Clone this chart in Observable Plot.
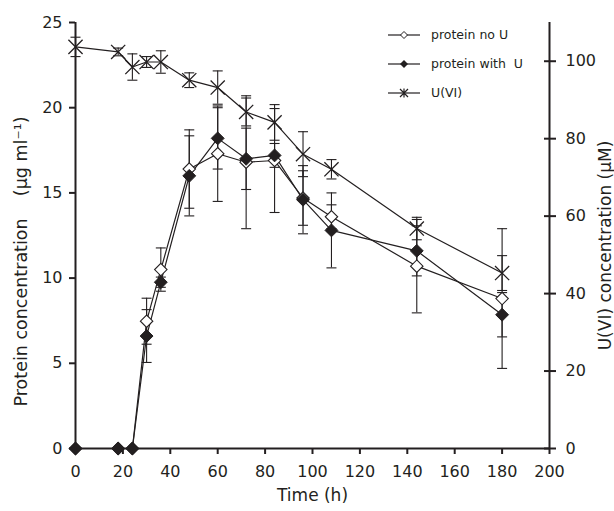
<!DOCTYPE html>
<html>
<head>
<meta charset="utf-8">
<script src="https://cdn.jsdelivr.net/npm/d3@7"></script>
<script src="https://cdn.jsdelivr.net/npm/@observablehq/plot@0.6"></script>
<style>
  html, body { margin: 0; padding: 0; background: #fff; }
  #wrap { position: relative; width: 614px; height: 511px; }
  #wrap svg text { white-space: pre; }
  #legend { position: absolute; left: 386px; top: 20px; font-family: "DejaVu Sans", sans-serif; font-size: 12.5px; color: #231f20; }
  #legend .row { display: flex; align-items: center; height: 29px; white-space: pre; }
  #legend svg { margin-right: 9px; }
</style>
</head>
<body>
<div id="wrap"></div>
<script>
// ---- data ----
const time = [0, 18, 24, 30, 36, 48, 60, 72, 84, 96, 108, 144, 180];
const proteinNoU = [0, 0, 0, 7.47, 10.5, 16.4, 17.3, 16.8, 16.9, 14.7, 13.6, 10.7, 8.8];
const proteinNoUErr = [0, 0, 0, 1.35, 1.27, 2.3, 2.8, 3.9, 3.05, 1.6, 0.7, 2.74, 4.1];
const proteinWithU = [0, 0, 0, 6.6, 9.76, 16.0, 18.2, 17.0, 17.2, 14.6, 12.8, 11.6, 7.85];
const proteinWithUErr = [0, 0, 0, 1.55, 0.3, 2.35, 1.8, 1.8, 0.7, 2.0, 2.2, 1.47, 1.3];
const uvi = [103.7, 102.4, 98.5, 99.8, 99.8, 95.1, 93.2, 86.9, 84.2, 76.0, 72.1, 56.8, 45.3];
const uviErr = [2.5, 1.0, 3.4, 1.4, 2.9, 1.9, 4.3, 3.6, 4.6, 5.8, 2.5, 2.9, 4.5];

const xTicks = [0, 20, 40, 60, 80, 100, 120, 140, 160, 180, 200];
const leftTicks = [0, 5, 10, 15, 20, 25];
const rightTicks = [0, 20, 40, 60, 80, 100];
const leftMax = 25, rightMax = 110;
const seriesNames = ["protein no U", "protein with  U", "U(VI)"];

// ---- build table ----
const k = leftMax / rightMax; // right-axis units -> left-axis units
const rows = [];
time.forEach((t, i) => {
  rows.push({series: "noU", t, v: proteinNoU[i], e: proteinNoUErr[i]});
  rows.push({series: "withU", t, v: proteinWithU[i], e: proteinWithUErr[i]});
  rows.push({series: "U", t, v: uvi[i] * k, e: uviErr[i] * k});
});
const errRows = rows.filter(d => d.e > 0);
const capRows = errRows.flatMap(d => [{t: d.t, y: d.v + d.e}, {t: d.t, y: d.v - d.e}]);
const bySeries = s => rows.filter(d => d.series === s);

const ink = "#231f20";
const hline = {draw(ctx, size) { const r = Math.sqrt(size / Math.PI); ctx.moveTo(-r, 0); ctx.lineTo(r, 0); }};

const chart = Plot.plot({
  width: 614,
  height: 511,
  marginLeft: 75,
  marginRight: 65,
  marginTop: 22,
  marginBottom: 63,
  style: {fontFamily: "DejaVu Sans, sans-serif", fontSize: "16px", color: ink, background: "#fff"},
  x: {domain: [0, 200]},
  y: {domain: [0, leftMax]},
  marks: [
    // error bars
    Plot.ruleX(errRows, {x: "t", y1: d => d.v - d.e, y2: d => d.v + d.e, stroke: ink, strokeWidth: 1.1}),
    Plot.dot(capRows, {x: "t", y: "y", symbol: hline, r: 5, fill: "none", stroke: ink, strokeWidth: 1.1}),
    // lines
    Plot.line(bySeries("U"), {x: "t", y: "v", stroke: ink, strokeWidth: 1.2}),
    Plot.line(bySeries("noU"), {x: "t", y: "v", stroke: ink, strokeWidth: 1.2}),
    Plot.line(bySeries("withU"), {x: "t", y: "v", stroke: ink, strokeWidth: 1.2}),
    // axis frame lines
    Plot.ruleY([0], {stroke: ink, strokeWidth: 2}),
    Plot.ruleX([0], {stroke: ink, strokeWidth: 2}),
    Plot.ruleX([200], {stroke: ink, strokeWidth: 2}),
    // markers
    Plot.dot(bySeries("U"), {x: "t", y: "v", symbol: "times", r: 6.5, stroke: ink, strokeWidth: 1.3, fill: "none"}),
    Plot.dot(bySeries("noU"), {x: "t", y: "v", symbol: "diamond2", r: 5.6, stroke: ink, strokeWidth: 1.1, fill: "white"}),
    Plot.dot(bySeries("withU"), {x: "t", y: "v", symbol: "diamond2", r: 5.8, stroke: ink, strokeWidth: 1, fill: ink}),
    // axes
    Plot.axisX({ticks: xTicks, tickSize: 6, tickPadding: 11, strokeWidth: 2, label: null, stroke: ink}),
    Plot.axisY({anchor: "left", ticks: leftTicks, tickSize: 6, tickPadding: 7, strokeWidth: 2, label: null, stroke: ink}),
    Plot.axisY({anchor: "right", ticks: rightTicks.map(v => v * k), tickFormat: d => String(Math.round(d / k)), tickSize: 6, tickPadding: 10, strokeWidth: 2, label: null, stroke: ink}),
    Plot.axisY({anchor: "right", ticks: rightTicks.map(v => v * k), text: null, tickSize: 6, dx: -6, strokeWidth: 2, label: null, stroke: ink}),
    // axis titles
    Plot.text(["Time (h)"], {frameAnchor: "bottom", dy: 52, textAnchor: "middle", fill: ink, fontSize: 17}),
    Plot.text(["Protein concentration    (\u03bcg ml\u207b\u00b9)"], {frameAnchor: "left", dx: -54, dy: 26, textAnchor: "middle", rotate: -90, fill: ink, fontSize: 17.5}),
    Plot.text(["U(VI) concentration (\u03bcM)"], {frameAnchor: "right", dx: 56, dy: 10, textAnchor: "middle", rotate: -90, fill: ink, fontSize: 17})
  ]
});

const wrap = document.getElementById("wrap");
wrap.appendChild(chart);

// legend (HTML overlay)
const legend = document.createElement("div");
legend.id = "legend";
const sw = [
  `<line x1="2" y1="7" x2="34" y2="7" stroke="${ink}" stroke-width="1.2"/><path d="M18,3.5L21.5,7L18,10.5L14.5,7Z" fill="white" stroke="${ink}" stroke-width="1"/>`,
  `<line x1="2" y1="7" x2="34" y2="7" stroke="${ink}" stroke-width="1.2"/><path d="M18,3L22,7L18,11L14,7Z" fill="${ink}"/>`,
  `<line x1="2" y1="7" x2="34" y2="7" stroke="${ink}" stroke-width="1.2"/><path d="M14,3L22,11M22,3L14,11M18,2.5L18,11.5" stroke="${ink}" stroke-width="1.2"/>`
];
seriesNames.forEach((name, i) => {
  const row = document.createElement("div");
  row.className = "row";
  row.innerHTML = `<svg width="36" height="14">${sw[i]}</svg><span>${name}</span>`;
  legend.appendChild(row);
});
wrap.appendChild(legend);
</script>
</body>
</html>
